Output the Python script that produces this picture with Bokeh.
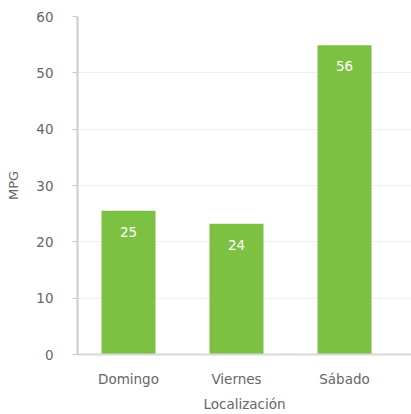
from bokeh.plotting import figure
from bokeh.models import Range1d, FixedTicker, ColumnDataSource
from bokeh.embed import file_html
from bokeh.resources import INLINE
from bokeh.core.properties import value

categories = ["Domingo", "Viernes", "Sábado"]
mpg = [25.5, 23.2, 54.9]
bar_labels = ["25", "24", "56"]
y_ticks = [0, 10, 20, 30, 40, 50, 60]

FONT = "DejaVu Sans"
TXT = "#666666"

xs = list(range(len(categories)))
src = ColumnDataSource(dict(x=xs, top=mpg, label=bar_labels))

p = figure(width=411, height=414, output_backend="svg", toolbar_location=None,
           x_range=Range1d(-0.472, 2.62), y_range=Range1d(0, 60),
           min_border_left=77, min_border_right=0, min_border_top=16, min_border_bottom=59)
p.outline_line_color = None
p.background_fill_color = "white"
p.border_fill_color = "white"

p.vbar(x="x", top="top", width=0.5, source=src, fill_color="#7cc142", line_color=None)
p.text(x="x", y="top", text="label", source=src, text_color="white",
       text_font=value(FONT), text_font_size="13.5px", text_align="center",
       text_baseline="middle", y_offset=21)

p.xgrid.grid_line_color = None
p.ygrid.grid_line_color = "#f0f0f0"
p.ygrid.ticker = FixedTicker(ticks=y_ticks)

p.yaxis.ticker = FixedTicker(ticks=y_ticks)
p.yaxis.axis_label = "MPG"
p.yaxis.axis_line_color = "#cccccc"
p.yaxis.axis_line_width = 2
p.yaxis.major_tick_line_color = "#cccccc"
p.yaxis.major_tick_out = 5
p.yaxis.major_tick_in = 0
p.yaxis.minor_tick_line_color = None
p.yaxis.major_label_standoff = 19
p.yaxis.axis_label_standoff = 12

p.xaxis.ticker = FixedTicker(ticks=xs)
p.xaxis.major_label_overrides = {i: c for i, c in enumerate(categories)}
p.xaxis.axis_label = "Localización"
p.xaxis.axis_line_color = "#d8d8d8"
p.xaxis.axis_line_width = 2
p.xaxis.major_tick_line_color = None
p.xaxis.minor_tick_line_color = None
p.xaxis.major_tick_out = 0
p.xaxis.major_tick_in = 0
p.xaxis.major_label_standoff = 16
p.xaxis.axis_label_standoff = 6

for ax in (p.xaxis, p.yaxis):
    ax.major_label_text_font = FONT
    ax.major_label_text_color = TXT
    ax.axis_label_text_font = FONT
    ax.axis_label_text_font_style = "normal"
    ax.axis_label_text_color = TXT
p.yaxis.major_label_text_font_size = "13.5px"
p.yaxis.axis_label_text_font_size = "13px"
p.xaxis.major_label_text_font_size = "13.5px"
p.xaxis.axis_label_text_font_size = "13.5px"

open("out.html", "w").write(file_html(p, INLINE))
